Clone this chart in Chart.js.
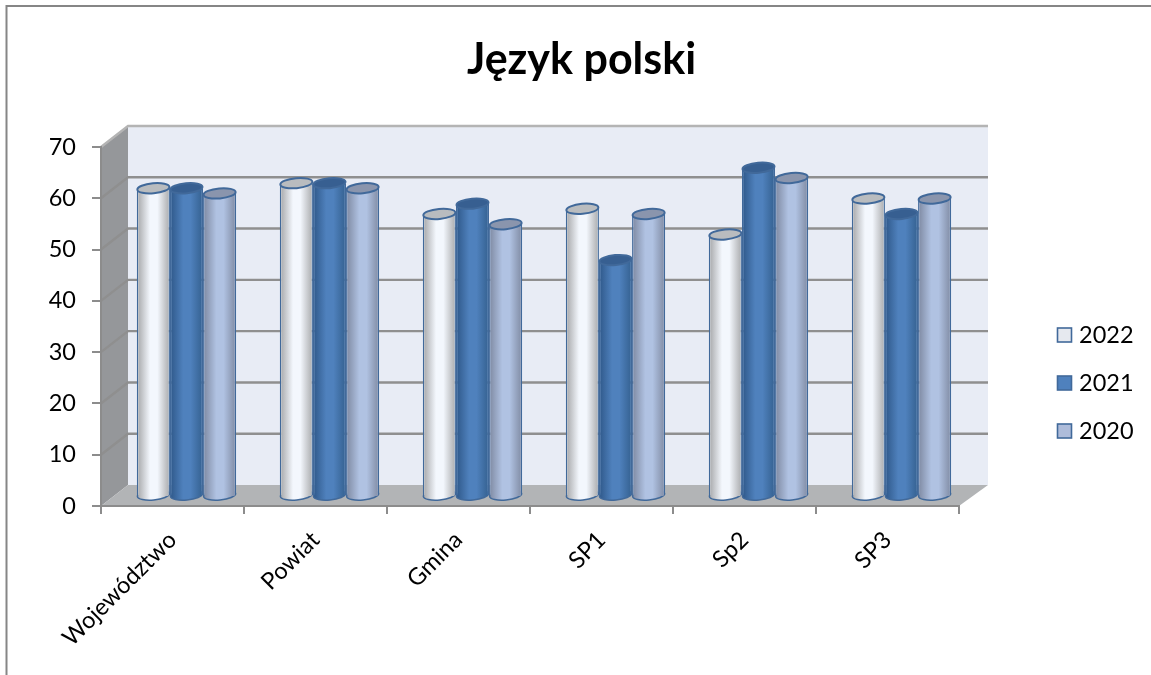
<!DOCTYPE html>
<html>
<head>
<meta charset="utf-8">
<title>Język polski</title>
<script src="https://cdn.jsdelivr.net/npm/chart.js@4"></script>
<style>
  html, body { margin: 0; padding: 0; background: #fff; }
  #wrap { width: 1151px; height: 675px; }
</style>
</head>
<body>
<div id="wrap"><canvas id="chart" width="1151" height="675"></canvas></div>
<script>
const categories = ["Województwo", "Powiat", "Gmina", "SP1", "Sp2", "SP3"];
const v2022 = [60, 61, 55, 56, 51, 58];
const v2021 = [60, 61, 57, 46, 64, 55];
const v2020 = [59, 60, 53, 55, 62, 58];

const FONT = "Lato, Carlito, sans-serif";
const DEPTH_X = 27;
const DEPTH_Y = 21;
const BAR_X = 14;
const BAR_Y = 10;

const looks = [
  { edgeL: "#a3a4a6", mid: "#f3f7fd", edgeR: "#a8a9ab", cap: "#b9bcbf", swatch: "#e6e9ef" },
  { edgeL: "#2e5788", mid: "#4f81bd", edgeR: "#34608f", cap: "#375f91", swatch: "#4f81bd" },
  { edgeL: "#7d88a0", mid: "#b0c2e2", edgeR: "#7f8aa2", cap: "#8a95ad", swatch: "#aebcda" },
];
const edgeColor = "#41699a";

function barGradient(ctx, x, w, look) {
  const g = ctx.createLinearGradient(x - w / 2, 0, x + w / 2, 0);
  g.addColorStop(0, look.edgeL);
  g.addColorStop(0.4, look.mid);
  g.addColorStop(0.62, look.mid);
  g.addColorStop(1, look.edgeR);
  return g;
}

const room = {
  id: "room",
  beforeDraw(chart) {
    const { ctx, scales } = chart;
    const left = scales.x.left, right = scales.x.right;
    const top = scales.y.getPixelForValue(70), bottom = scales.y.getPixelForValue(0);
    ctx.save();
    // frame of the picture
    ctx.strokeStyle = "#868686";
    ctx.lineWidth = 2;
    ctx.beginPath();
    ctx.moveTo(6.5, 675);
    ctx.lineTo(6.5, 6);
    ctx.lineTo(1151, 6);
    ctx.stroke();
    // back wall
    ctx.fillStyle = "#e8ecf5";
    ctx.fillRect(left + DEPTH_X, top - DEPTH_Y, right - left + 2, bottom - top);
    // side wall
    ctx.fillStyle = "#95979a";
    ctx.beginPath();
    ctx.moveTo(left, top);
    ctx.lineTo(left + DEPTH_X, top - DEPTH_Y);
    ctx.lineTo(left + DEPTH_X, bottom - DEPTH_Y);
    ctx.lineTo(left, bottom);
    ctx.fill();
    // floor
    ctx.fillStyle = "#b2b4b6";
    ctx.beginPath();
    ctx.moveTo(left, bottom);
    ctx.lineTo(left + DEPTH_X, bottom - DEPTH_Y);
    ctx.lineTo(right + DEPTH_X + 2, bottom - DEPTH_Y);
    ctx.lineTo(right, bottom);
    ctx.fill();
    // gridlines on the walls
    ctx.lineWidth = 2.4;
    scales.y.ticks.forEach((t) => {
      const y = scales.y.getPixelForValue(t.value);
      if (t.value === 0) return;
      ctx.strokeStyle = t.value === 70 ? "#b4b4b4" : "#8f8f8f";
      ctx.beginPath();
      ctx.moveTo(left, y);
      ctx.lineTo(left + DEPTH_X, y - DEPTH_Y);
      ctx.lineTo(right + DEPTH_X + 2, y - DEPTH_Y);
      ctx.stroke();
    });
    ctx.restore();
  },
  afterLayout(chart) {
    // title is centred on the whole picture, not on the plot
    chart.titleBlock.left = 6;
    chart.titleBlock.right = 1157;
  },
};

// series are painted left to right, so each one overlaps the cap of the one before
const cylinders = {
  id: "cylinders",
  beforeDatasetDraw() {
    return false;
  },
  afterDatasetsDraw(chart) {
    const ctx = chart.ctx;
    chart.data.datasets.forEach((ds, i) => {
      const meta = chart.getDatasetMeta(i);
      const look = looks[i];
      ctx.save();
      ctx.translate(BAR_X, -BAR_Y);
      meta.data.forEach((bar) => {
        const p = bar.getProps(["x", "base", "width"], true);
        ctx.beginPath();
        ctx.ellipse(p.x, p.base, p.width / 2 - 0.5, 5, -0.09, 0, Math.PI * 2);
        ctx.fillStyle = barGradient(ctx, p.x, p.width, look);
        ctx.fill();
        ctx.strokeStyle = edgeColor;
        ctx.lineWidth = 1.5;
        ctx.stroke();
      });
      meta.controller.draw();
      meta.data.forEach((bar) => {
        const p = bar.getProps(["x", "y", "base", "width"], true);
        ctx.fillStyle = barGradient(ctx, p.x, p.width, look);
        ctx.fillRect(p.x - p.width / 2 + 1.5, p.y, p.width - 3, p.base - p.y + 1);
        ctx.beginPath();
        ctx.ellipse(p.x, p.y, p.width / 2 - 0.5, 5, -0.09, 0, Math.PI * 2);
        ctx.fillStyle = look.cap;
        ctx.fill();
        ctx.strokeStyle = edgeColor;
        ctx.lineWidth = 2;
        ctx.stroke();
      });
      ctx.restore();
    });
  },
};

const sideLegend = {
  id: "sideLegend",
  afterDraw(chart) {
    const ctx = chart.ctx;
    ctx.save();
    ctx.font = "23.5px " + FONT;
    ctx.textBaseline = "middle";
    chart.data.datasets.forEach((ds, i) => {
      const y = 335 + i * 48;
      ctx.fillStyle = looks[i].swatch;
      ctx.fillRect(1057.5, y - 7, 14, 14);
      ctx.strokeStyle = edgeColor;
      ctx.lineWidth = 1.6;
      ctx.strokeRect(1057.5, y - 7, 14, 14);
      ctx.fillStyle = "#000";
      ctx.fillText(ds.label, 1079, y);
    });
    ctx.restore();
  },
};

new Chart(document.querySelector("#chart").getContext("2d"), {
  type: "bar",
  data: {
    labels: categories,
    datasets: [
      { label: "2022", data: v2022, backgroundColor: looks[0].mid },
      { label: "2021", data: v2021, backgroundColor: looks[1].mid },
      { label: "2020", data: v2020, backgroundColor: looks[2].mid },
    ],
  },
  options: {
    responsive: false,
    animation: false,
    clip: false,
    layout: { padding: { left: 0, right: 192, top: 0, bottom: 0 } },
    datasets: {
      bar: {
        categoryPercentage: 0.695,
        barPercentage: 1,
        borderColor: edgeColor,
        borderWidth: { left: 1.5, right: 1.5, top: 0, bottom: 0 },
        borderSkipped: false,
      },
    },
    plugins: {
      legend: { display: false },
      tooltip: { enabled: false },
      title: {
        display: true,
        text: "Język polski",
        color: "#000",
        font: { family: FONT, size: 43, weight: "bold", lineHeight: 1.2 },
        padding: { top: 34, bottom: 61.4 },
      },
    },
    scales: {
      x: {
        afterFit(s) { s.height = 169; },
        border: { color: "#8c8c8c", width: 2 },
        grid: { drawOnChartArea: false, color: "#8c8c8c", lineWidth: 2, tickLength: 8 },
        ticks: {
          color: "#000",
          font: { family: FONT, size: 23.5 },
          minRotation: 45,
          maxRotation: 45,
          padding: 12,
          autoSkip: false,
        },
      },
      y: {
        min: 0,
        max: 70,
        afterFit(s) { s.width = 101; },
        border: { color: "#8c8c8c", width: 2 },
        grid: { drawOnChartArea: false, color: "#8c8c8c", lineWidth: 2, tickLength: 9 },
        ticks: {
          stepSize: 10,
          color: "#000",
          font: { family: FONT, size: 23.5 },
          padding: 16,
        },
      },
    },
  },
  plugins: [room, cylinders, sideLegend],
});
</script>
</body>
</html>
